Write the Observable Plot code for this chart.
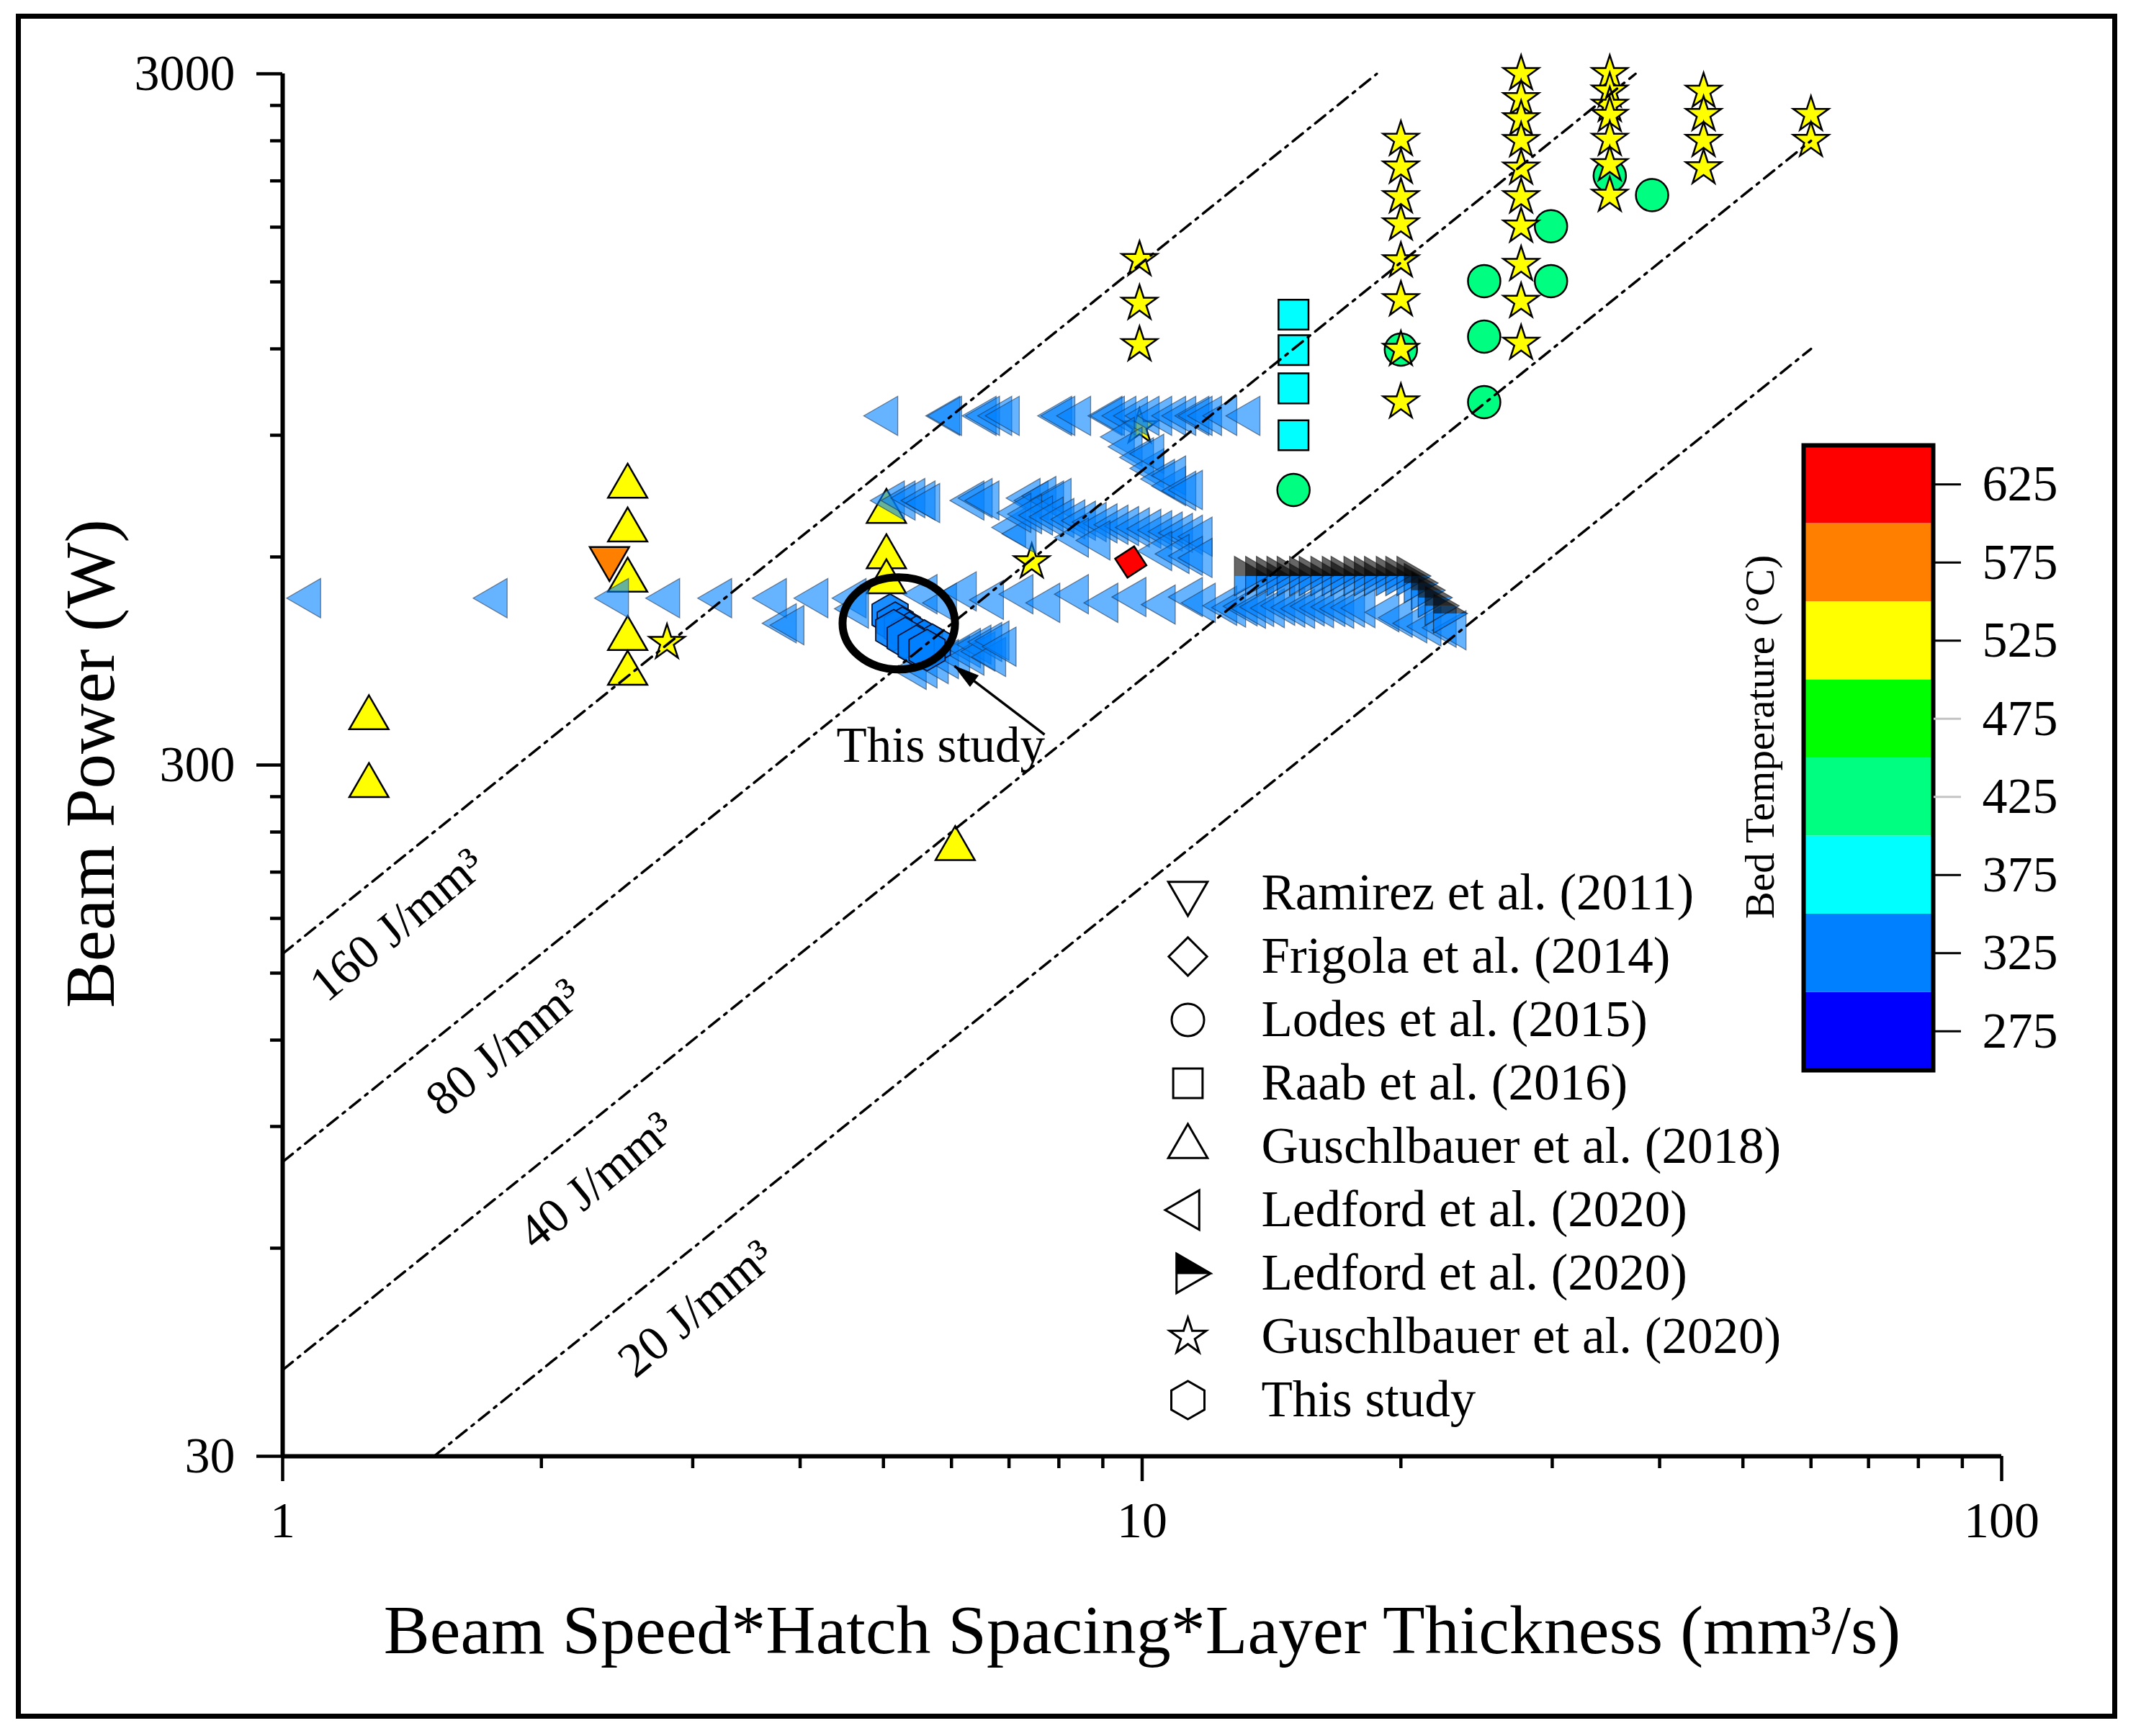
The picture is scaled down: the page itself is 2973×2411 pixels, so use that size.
<!DOCTYPE html>
<html>
<head>
<meta charset="utf-8">
<script src="https://cdn.jsdelivr.net/npm/d3@7"></script>
<script src="https://cdn.jsdelivr.net/npm/@observablehq/plot@0.6"></script>
<style>
html,body{margin:0;padding:0;background:#fff;}
#wrap{position:relative;width:2973px;height:2411px;background:#fff;overflow:hidden;}
#wrap svg{display:block;}
.abs{position:absolute;}
#border{position:absolute;left:22px;top:19px;width:2918px;height:2368px;border:7px solid #000;box-sizing:border-box;pointer-events:none;}
</style>
</head>
<body>
<div id="wrap"><div id="border"></div></div>
<script>
// ---------------- DATA ----------------
// Bed temperature colour key (°C)
const tempBandEdges = [250, 300, 350, 400, 450, 500, 550, 600, 650];
const tempColors = ["#0000FF", "#0080FF", "#00FFFF", "#00FF80", "#00FF00", "#FFFF00", "#FF8000", "#FF0000"];
const tempTicks = [275, 325, 375, 425, 475, 525, 575, 625];
const tempTicksGrey = [425, 475];

// Axis ticks
const xMajor = [1, 10, 100];
const xMinor = [2, 3, 4, 5, 6, 7, 8, 9, 20, 30, 40, 50, 60, 70, 80, 90];
const yMajor = [30, 300, 3000];
const yMinor = [60, 90, 120, 150, 180, 210, 240, 270, 600, 900, 1200, 1500, 1800, 2100, 2400, 2700];

// Constant energy-density lines (J/mm^3): P = E * Q
const energyLevels = [160, 80, 40, 20];
const energyQStart = [1, 1, 1, 1.5];
const energyQEnd = [18.75, 37.5, 60, 60];
const energyLabelQ = [1.36, 1.81, 2.32, 3.03];

// Ramirez et al. (2011)
const ramirezQ = [2.40], ramirezP = [597], ramirezT = 575;
// Frigola et al. (2014)
const frigolaQ = [9.7], frigolaP = [590], frigolaT = 625;
// Lodes et al. (2015)
const lodesQ = [15.0, 20.0, 25.0, 25.0, 25.0, 29.9, 29.9, 35.0, 39.2];
const lodesP = [750, 1197, 1005, 1250, 1504, 1504, 1805, 2136, 2003];
const lodesT = 425;
// Raab et al. (2016)
const raabQ = [15.0, 15.0, 15.0, 15.0];
const raabP = [1345, 1195, 1052, 900];
const raabT = 375;
// Guschlbauer et al. (2018)
const gus18Q = [1.26, 1.26, 2.52, 2.52, 2.52, 2.52, 2.52, 5.04, 5.04, 5.04, 6.06];
const gus18P = [351, 280, 759, 656, 555, 457, 407, 698, 600, 552, 227];
const gus18T = 525;
// Guschlbauer et al. (2020)
const gus20Q = [9.93, 9.93, 9.93, 9.93, 7.44, 2.80,
  20.0, 20.0, 20.0, 20.0, 20.0, 20.0, 20.0, 20.0,
  27.6, 27.6, 27.6, 27.6, 27.6, 27.6, 27.6, 27.6, 27.6, 27.6,
  35.0, 35.0, 35.0, 35.0, 35.0, 35.0, 35.0,
  45.0, 45.0, 45.0, 45.0,
  60.0, 60.0];
const gus20P = [1615, 1396, 1216, 925, 590, 451,
  2410, 2197, 1991, 1818, 1608, 1413, 1197, 1005,
  3000, 2760, 2580, 2400, 2190, 1990, 1805, 1589, 1405, 1222,
  3000, 2830, 2700, 2610, 2410, 2215, 2000,
  2829, 2618, 2401, 2193,
  2618, 2401];
const gus20T = 525;
// Ledford et al. (2020) - left triangles
const ledLQ = [
  5.04, 5.95, 5.98, 6.56, 6.62, 6.84, 6.98, 8.03, 8.10, 8.45, 9.19, 9.25, 9.54, 9.84, 10.15, 10.5, 10.9, 11.2, 11.6, 11.7, 12.0, 12.5, 13.3,
  9.5, 9.7, 10.0, 10.28, 10.28, 10.58, 10.9, 10.9, 11.2, 11.4,
  5.13, 5.28, 5.42, 5.57, 5.64, 6.35, 6.49, 6.61, 7.38, 7.54, 7.70, 7.86, 8.02,
  7.1, 7.3, 7.20, 7.41, 7.63, 7.85, 8.08, 8.32, 8.56, 8.81, 9.07, 9.34, 9.61, 9.89, 10.2, 10.5, 10.8, 11.1, 11.4, 11.7,
  8.4, 8.9, 10.5, 11.0, 11.4, 11.7,
  1.074, 1.77, 2.45, 2.81, 3.23, 3.74, 4.18, 4.63, 4.66, 3.84, 3.92,
  5.6, 5.9,
  6.22, 6.69, 7.24, 7.78, 8.40, 9.09, 9.80, 10.6, 11.4, 11.8, 12.5,
  12.8, 13.2, 13.5, 13.8, 14.2, 14.6, 15.0, 15.4, 15.8, 16.2, 16.7, 17.1, 17.6, 18.1, 19.3, 20.0, 20.8, 21.6, 22.5, 23.1,
  5.44, 5.60, 5.77, 5.93, 6.11, 6.29, 6.35, 6.47, 6.54, 6.66, 6.73, 6.79, 6.92
];
const ledLP = [
  960, 960, 960, 960, 960, 960, 960, 960, 960, 960, 960, 960, 960, 960, 960, 960, 960, 960, 960, 960, 960, 960, 960,
  895, 866, 836, 806, 846, 778, 760, 787, 748, 750,
  724, 724, 730, 724, 718, 724, 730, 724, 730, 724, 735, 724, 730,
  662, 648, 695, 692, 689, 686, 683, 680, 677, 674, 671, 668, 665, 662, 659, 656, 653, 650, 646, 642,
  640, 634, 612, 606, 602, 598,
  523, 523, 523, 523, 523, 523, 523, 523, 505, 481, 478,
  530, 515,
  535, 520, 530, 515, 530, 515, 525, 512, 525, 515, 510,
  507, 509, 505, 508, 506, 510, 507, 505, 509, 506, 508, 505, 507, 506, 499, 490, 481, 476, 474, 470,
  412, 414, 420, 427, 432, 443, 432, 448, 438, 452, 430, 454, 445
];
const ledLT = 325;
// Ledford et al. (2020) - half-filled right triangles
const ledRQ = [13.2, 13.6, 14.0, 14.4, 14.8, 15.3, 15.7, 16.2, 16.7, 17.1, 17.7, 18.2, 18.7, 19.3, 19.8, 20.4, 20.8, 21.2, 21.6, 22.0, 22.5];
const ledRP = [563, 563, 563, 563, 563, 563, 563, 563, 563, 563, 563, 563, 563, 563, 563, 563, 550, 537, 524, 510, 497];
const ledRT = 325;
// This study
const studyQ = [5.09, 5.16, 5.26, 5.36, 5.46, 5.58, 5.70, 5.14, 5.30, 5.46, 5.62];
const studyP = [495, 482, 474, 466, 460, 454, 448, 470, 458, 446, 440];
const studyT = 325;
// Annotation anchors (data space)
const annotEllipse = {Q: 5.21, P: 481};
const annotArrow = {Q1: 7.70, P1: 332, Q2: 6.05, P2: 417};
const annotText = {Q: 5.83, P: 320, text: "This study"};

// Legend
const legendNames = ["Ramirez et al. (2011)", "Frigola et al. (2014)", "Lodes et al. (2015)", "Raab et al. (2016)",
  "Guschlbauer et al. (2018)", "Ledford et al. (2020)", "Ledford et al. (2020)", "Guschlbauer et al. (2020)", "This study"];

// ---------------- HELPERS ----------------
const FONT = "'Liberation Serif', 'Times New Roman', Times, serif";
const rows = (Q, P, T) => Q.map((q, i) => ({Q: q, P: P[i], T: Array.isArray(T) ? T[i] : T}));

function tri(kind) {
  return {
    draw(ctx, size) {
      const r = Math.sqrt(size / Math.PI);
      const L = 2.6 * r, h = L * Math.sqrt(3) / 2;
      const a = 2 * h / 3, b = h / 3, c = L / 2;
      if (kind === "up") { ctx.moveTo(0, -a); ctx.lineTo(c, b); ctx.lineTo(-c, b); }
      else if (kind === "down") { ctx.moveTo(0, a); ctx.lineTo(c, -b); ctx.lineTo(-c, -b); }
      else if (kind === "left") { ctx.moveTo(-a, 0); ctx.lineTo(b, -c); ctx.lineTo(b, c); }
      else if (kind === "right") { ctx.moveTo(a, 0); ctx.lineTo(-b, -c); ctx.lineTo(-b, c); }
      else if (kind === "rightTop") { ctx.moveTo(a, 0); ctx.lineTo(-b, -c); ctx.lineTo(-b, 0); }
      else if (kind === "rightBottom") { ctx.moveTo(a, 0); ctx.lineTo(-b, c); ctx.lineTo(-b, 0); }
      ctx.closePath();
    }
  };
}
const symUp = tri("up"), symDown = tri("down"), symLeft = tri("left"), symRight = tri("right");
const symRightTop = tri("rightTop"), symRightBottom = tri("rightBottom");
const symEllipse = {
  draw(ctx, size) {
    const ry = Math.sqrt(size / Math.PI), rx = ry * 1.22, k = 0.5523;
    ctx.moveTo(rx, 0);
    ctx.bezierCurveTo(rx, k * ry, k * rx, ry, 0, ry);
    ctx.bezierCurveTo(-k * rx, ry, -rx, k * ry, -rx, 0);
    ctx.bezierCurveTo(-rx, -k * ry, -k * rx, -ry, 0, -ry);
    ctx.bezierCurveTo(k * rx, -ry, rx, -k * ry, rx, 0);
    ctx.closePath();
  }
};
// arrowhead wedge: tip at origin, body along -x
const symWedge = {
  draw(ctx, size) {
    const r = Math.sqrt(size / Math.PI);
    ctx.moveTo(0, 0);
    ctx.lineTo(-2 * r, -0.55 * r);
    ctx.lineTo(-2 * r, 0.55 * r);
    ctx.closePath();
  }
};

const colorScale = {type: "threshold", domain: tempBandEdges.slice(1, -1), range: tempColors};

const energyRows = energyLevels.flatMap((E, i) => [
  {E, Q: energyQStart[i], P: E * energyQStart[i]},
  {E, Q: energyQEnd[i], P: E * energyQEnd[i]}
]);
const energyLabels = energyLevels.map((E, i) => ({E, Q: energyLabelQ[i], P: E * energyLabelQ[i]}));

const outline = {stroke: "#000", strokeWidth: 2.5};

// ---------------- MAIN CHART ----------------
const main = Plot.plot({
  width: 2973, height: 2411,
  marginLeft: 392, marginRight: 194, marginTop: 102, marginBottom: 389,
  x: {type: "log", domain: [1, 100]},
  y: {type: "log", domain: [30, 3000]},
  color: colorScale,
  style: {fontFamily: FONT, background: "transparent", color: "#000", overflow: "visible"},
  marks: [
    Plot.dot(rows(gus18Q, gus18P, gus18T), {x: "Q", y: "P", fill: "T", symbol: symUp, r: 21, ...outline}),
    Plot.dot(rows(ramirezQ, ramirezP, ramirezT), {x: "Q", y: "P", fill: "T", symbol: symDown, r: 21, ...outline}),
    Plot.dot(rows(frigolaQ, frigolaP, frigolaT), {x: "Q", y: "P", fill: "T", symbol: "diamond2", r: 20, rotate: 12, ...outline}),
    Plot.dot(rows(raabQ, raabP, raabT), {x: "Q", y: "P", fill: "T", symbol: "square", r: 23.5, ...outline}),
    Plot.dot(rows(lodesQ, lodesP, lodesT), {x: "Q", y: "P", fill: "T", symbol: "circle", r: 22.5, ...outline}),
    Plot.dot(rows(gus20Q, gus20P, gus20T), {x: "Q", y: "P", fill: "T", symbol: "star", r: 15.5, ...outline}),
    Plot.dot(rows(ledLQ, ledLP, ledLT), {x: "Q", y: "P", fill: "T", fillOpacity: 0.6, symbol: symLeft, r: 21,
      stroke: "#1a2a40", strokeOpacity: 0.55, strokeWidth: 1.3}),
    Plot.dot(rows(ledRQ, ledRP, ledRT), {x: "Q", y: "P", fill: "T", fillOpacity: 0.75, symbol: symRightBottom, r: 21, stroke: "none"}),
    Plot.dot(rows(ledRQ, ledRP, ledRT), {x: "Q", y: "P", fill: "#000", fillOpacity: 0.6, symbol: symRightTop, r: 21, stroke: "none"}),
    Plot.dot(rows(ledRQ, ledRP, ledRT), {x: "Q", y: "P", fill: "none", symbol: symRight, r: 21, stroke: "#111", strokeOpacity: 0.6, strokeWidth: 1.3}),
    Plot.dot(rows(studyQ, studyP, studyT), {x: "Q", y: "P", fill: "T", fillOpacity: 0.9, symbol: "hexagon", r: 25, stroke: "#061230", strokeWidth: 1.8}),
    Plot.line(energyRows, {x: "Q", y: "P", z: "E", stroke: "#000", strokeWidth: 3.5, strokeDasharray: "18,9,4,9"}),
    Plot.text(energyLabels, {x: "Q", y: "P", text: d => `${d.E} J/mm³`, rotate: -39.5, dy: 88, fontSize: 68, lineAnchor: "middle"}),
    Plot.dot([annotEllipse], {x: "Q", y: "P", symbol: symEllipse, r: 64, fill: "none", stroke: "#000", strokeWidth: 11}),
    Plot.link([annotArrow], {x1: "Q1", y1: "P1", x2: "Q2", y2: "P2", stroke: "#000", strokeWidth: 3.5}),
    Plot.dot([annotArrow], {x: "Q2", y: "P2", symbol: symWedge, r: 17, rotate: -142.8, fill: "#000", stroke: "#000", strokeWidth: 1}),
    Plot.text([annotText], {x: "Q", y: "P", text: "text", fontSize: 69, lineAnchor: "middle"}),
    Plot.ruleX([1], {stroke: "#000", strokeWidth: 6}),
    Plot.ruleY([30], {stroke: "#000", strokeWidth: 6}),
    Plot.axisX(xMajor, {tickSize: 35, tickPadding: 28, fontSize: 70, tickFormat: d => String(d), strokeWidth: 4.5, label: null}),
    Plot.axisX(xMinor, {tickSize: 17, strokeWidth: 4.5, fill: "none", label: null}),
    Plot.axisY(yMajor, {tickSize: 36, tickPadding: 30, fontSize: 70, tickFormat: d => String(d), strokeWidth: 4.5, label: null}),
    Plot.axisY(yMinor, {tickSize: 17, strokeWidth: 4.5, fill: "none", label: null}),
    Plot.text(["Beam Power (W)"], {frameAnchor: "left", rotate: -90, dx: -266, dy: -2, fontSize: 97, textAnchor: "middle", lineAnchor: "middle"}),
    Plot.text(["Beam Speed*Hatch Spacing*Layer Thickness (mm³/s)"], {frameAnchor: "bottom", dy: 243, fontSize: 96, textAnchor: "middle", lineAnchor: "middle"})
  ]
});
main.classList.add("abs");
main.style.left = "0px";
main.style.top = "0px";
document.getElementById("wrap").appendChild(main);

// ---------------- COLOUR BAR ----------------
const bands = tempColors.map((c, i) => ({lo: tempBandEdges[i], hi: tempBandEdges[i + 1], T: (tempBandEdges[i] + tempBandEdges[i + 1]) / 2}));
const cbar = Plot.plot({
  width: 500, height: 868,
  marginLeft: 100, marginRight: 220, marginTop: 0, marginBottom: 0,
  y: {domain: [250, 650]},
  color: colorScale,
  style: {fontFamily: FONT, background: "transparent", color: "#000", overflow: "visible"},
  marks: [
    Plot.barY(bands, {y1: "lo", y2: "hi", fill: "T"}),
    Plot.frame({stroke: "#000", strokeWidth: 6}),
    Plot.axisY(tempTicks.filter(t => !tempTicksGrey.includes(t)), {anchor: "right", tickSize: 38, strokeWidth: 3, fill: "none", label: null}),
    Plot.axisY(tempTicksGrey, {anchor: "right", tickSize: 38, strokeWidth: 3, stroke: "#c4c4c4", fill: "none", label: null}),
    Plot.axisY(tempTicks, {anchor: "right", tickSize: 0, tickPadding: 68, fontSize: 70, tickFormat: d => String(d), label: null}),
    Plot.text(["Bed Temperature (°C)"], {frameAnchor: "left", rotate: -90, dx: -60, dy: -29, fontSize: 57, textAnchor: "middle", lineAnchor: "middle"})
  ]
});
cbar.classList.add("abs");
cbar.style.left = "2404px";
cbar.style.top = "618px";
document.getElementById("wrap").appendChild(cbar);

// ---------------- LEGEND ----------------
const legRows = legendNames.map((name, i) => ({i, name}));
const legSymbols = [symDown, "diamond2", "circle", "square", symUp, symLeft, symRight, "star", "hexagon"];
const legRadius = [21, 24, 22.5, 23, 21, 21, 21, 16, 23];
const legend = Plot.plot({
  width: 900, height: 795, margin: 0,
  y: {type: "point", domain: d3.range(legendNames.length), range: [44, 750], padding: 0, axis: null},
  style: {fontFamily: FONT, background: "transparent", color: "#000", overflow: "visible"},
  marks: [
    ...legRows.map((d, k) => Plot.dot([d], {y: "i", frameAnchor: "left", dx: 49, symbol: legSymbols[k], r: legRadius[k], fill: "white", stroke: "#000", strokeWidth: 3})),
    Plot.dot([legRows[6]], {y: "i", frameAnchor: "left", dx: 49, symbol: symRightTop, r: 21, fill: "#000", stroke: "#000", strokeWidth: 2}),
    Plot.text(legRows, {y: "i", text: "name", frameAnchor: "left", dx: 151, textAnchor: "start", fontSize: 71, lineAnchor: "middle"})
  ]
});
legend.classList.add("abs");
legend.style.left = "1600px";
legend.style.top = "1195px";
document.getElementById("wrap").appendChild(legend);
</script>
</body>
</html>
